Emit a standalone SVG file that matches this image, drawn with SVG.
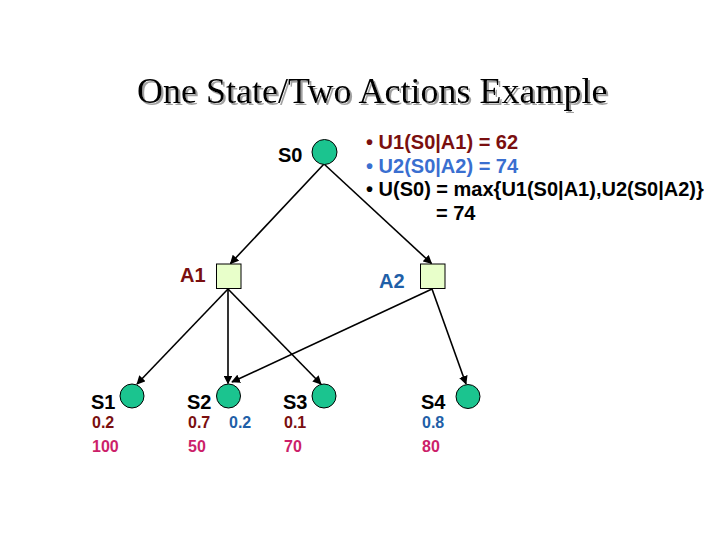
<svg xmlns="http://www.w3.org/2000/svg" width="720" height="540" viewBox="0 0 720 540">
<style>
.title{font-family:"Liberation Serif","Times New Roman",serif;font-size:36px}
.t{font-family:"Liberation Sans",Arial,sans-serif;font-weight:bold}
.st{fill:#1bc48f;stroke:#000;stroke-width:1}
.ac{fill:#e8ffca;stroke:#000;stroke-width:1}
.ln{stroke:#000;stroke-width:1.6;fill:none;marker-end:url(#ah)}
.red{fill:#7a0f0f}
.blue{fill:#1f5fa8}
.lblue{fill:#3a6fd0}
.mag{fill:#cc1f6a}
</style>
<defs>
<marker id="ah" viewBox="0 0 10 10" refX="9" refY="5" markerWidth="5.5" markerHeight="5.5" orient="auto" markerUnits="strokeWidth">
<path d="M0,0 L10,5 L0,10 z" fill="#000"/>
</marker>
<filter id="sh" x="-5%" y="-20%" width="110%" height="140%">
<feDropShadow dx="2" dy="2" stdDeviation="0.3" flood-color="#a0a0a0" flood-opacity="1"/>
</filter>
</defs>
<rect width="720" height="540" fill="#fff"/>
<g id="title">
<text class="title" x="137" y="103" fill="#000" filter="url(#sh)">One State/Two Actions Example</text>
</g>
<g id="formulas" class="t" font-size="20">
<text x="366" y="149" class="red">• U1(S0|A1) = 62</text>
<text x="366" y="172.5" class="lblue">• U2(S0|A2) = 74</text>
<text x="366" y="196" fill="#000">• U(S0) = max{U1(S0|A1),U2(S0|A2)}</text>
<text x="436" y="219.5" fill="#000">= 74</text>
</g>
<g id="connectors">
<line class="ln" x1="324" y1="164" x2="230.5" y2="263.5"/>
<line class="ln" x1="324" y1="164" x2="431.5" y2="263.5"/>
<line class="ln" x1="228" y1="289" x2="137" y2="384"/>
<line class="ln" x1="228" y1="289" x2="228" y2="383.5"/>
<line class="ln" x1="228" y1="289" x2="321" y2="384"/>
<line class="ln" x1="432" y1="289" x2="232" y2="382"/>
<line class="ln" x1="432" y1="289" x2="466" y2="384"/>
</g>
<g id="S0">
<circle class="st" cx="324.5" cy="152" r="12.5"/>
<text class="t" x="278" y="162" font-size="20">S0</text>
</g>
<g id="A1">
<rect class="ac" x="216.5" y="264" width="24.5" height="24.5"/>
<text class="t red" x="180" y="282" font-size="20">A1</text>
</g>
<g id="A2">
<rect class="ac" x="420.5" y="264" width="24.5" height="24.5"/>
<text class="t blue" x="379" y="288" font-size="20">A2</text>
</g>
<g id="S1">
<circle class="st" cx="132" cy="396" r="12"/>
<text class="t" x="91" y="409" font-size="20">S1</text>
<text class="t red" x="92" y="428" font-size="16">0.2</text>
<text class="t mag" x="92" y="452" font-size="16">100</text>
</g>
<g id="S2">
<circle class="st" cx="228.5" cy="396" r="12"/>
<text class="t" x="187" y="409" font-size="20">S2</text>
<text class="t red" x="188" y="428" font-size="16">0.7</text>
<text class="t blue" x="229" y="428" font-size="16">0.2</text>
<text class="t mag" x="188" y="452" font-size="16">50</text>
</g>
<g id="S3">
<circle class="st" cx="324" cy="396" r="12"/>
<text class="t" x="283" y="409" font-size="20">S3</text>
<text class="t red" x="284" y="428" font-size="16">0.1</text>
<text class="t mag" x="284" y="452" font-size="16">70</text>
</g>
<g id="S4">
<circle class="st" cx="468" cy="396.5" r="12"/>
<text class="t" x="421" y="409" font-size="20">S4</text>
<text class="t blue" x="422" y="428" font-size="16">0.8</text>
<text class="t mag" x="422" y="452" font-size="16">80</text>
</g>
</svg>
